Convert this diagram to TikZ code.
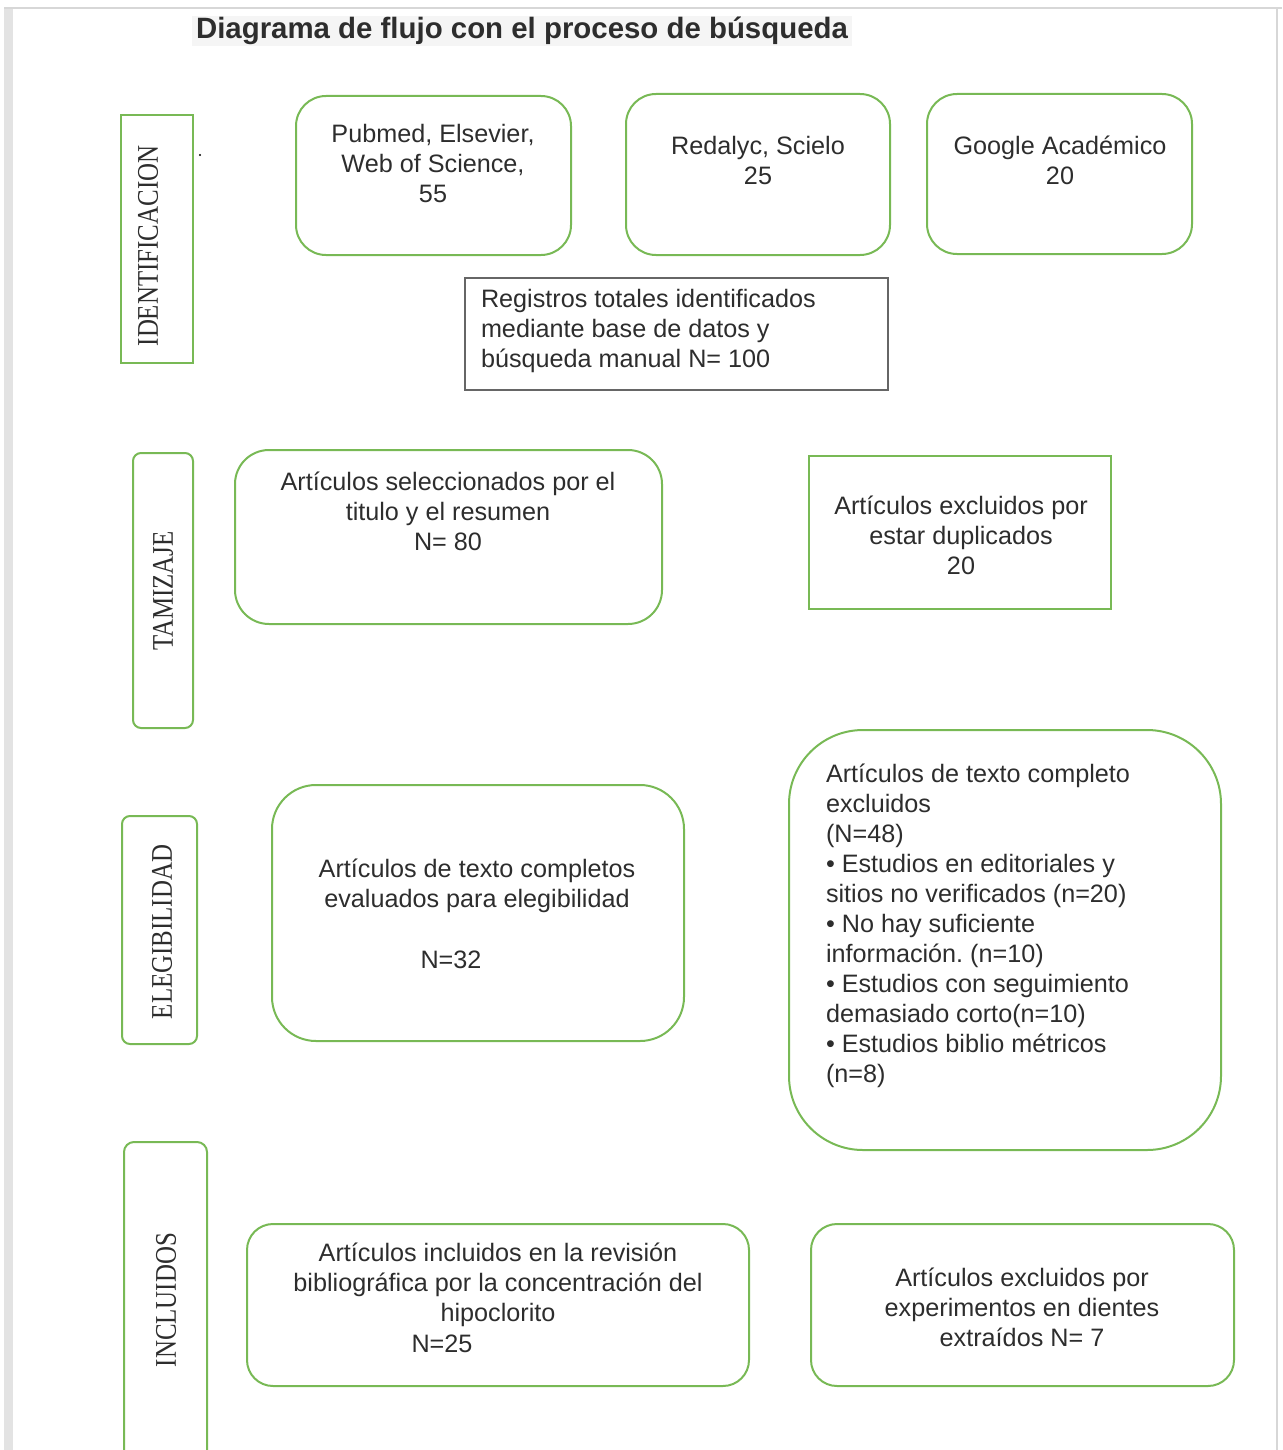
\documentclass[tikz,border=0pt]{standalone}
\usepackage{fontspec}
\setmainfont{Liberation Sans}
\newfontfamily\sidefont{Liberation Serif}
\definecolor{grn}{RGB}{120,185,85}
\definecolor{txt}{RGB}{45,45,45}
\definecolor{frame}{RGB}{215,215,215}
\begin{document}
\begin{tikzpicture}[x=0.5pt,y=-0.5pt,
  every node/.style={inner sep=0pt, outer sep=0pt, text=txt},
  gbox/.style={draw=grn, line width=1pt},
  rbox/.style={gbox, rounded corners=15pt},
  sidebox/.style={gbox, rounded corners=4pt},
  body/.style={font=\fontsize{12.6}{15}\selectfont, align=center},
  bodyl/.style={font=\fontsize{12.6}{15}\selectfont, align=left, anchor=west},
  side/.style={rotate=90, font=\sidefont\fontsize{15}{15}\selectfont}
]
\useasboundingbox (0,0) rectangle (1282,1450);
% page frame
\fill[frame!70] (4,8) rectangle (13,1450);
\draw[frame, line width=1pt] (4,8) -- (1282,8);
\draw[frame, line width=1pt] (1277,8) -- (1277,1450);

% title
\node[fill=black!4, inner xsep=2pt, minimum height=15pt, font=\bfseries\fontsize{14.7}{15}\selectfont] (title) at (522,31) {Diagrama de flujo con el proceso de búsqueda};

% IDENTIFICACION row
\node[gbox, minimum width=36pt, minimum height=124pt] (idb) at (157,239) {};
\node[side] (idt) at (148,246) {\scalebox{0.83}[1]{IDENTIFICACION}};
\fill (200,155) circle (0.6pt);
\node[rbox, minimum width=137.5pt, minimum height=79.5pt] (pub) at (433.5,175.5) {};
\node[body] (pubt) at (433,163) {Pubmed, Elsevier,\\Web of Science,\\55};
\node[rbox, minimum width=132pt, minimum height=80.5pt] (red) at (758,174.5) {};
\node[body] (redt) at (758,160) {Redalyc, Scielo\\25};
\node[rbox, minimum width=132.5pt, minimum height=80pt] (goo) at (1059.5,174) {};
\node[body] (goot) at (1060,160) {Google Académico\\20};
\node[draw=black!60, line width=0.8pt, minimum width=211.5pt, minimum height=56pt] (reg) at (676.5,334) {};
\node[bodyl] (regt) at (481,331) {Registros totales identificados\\mediante base de datos y\\búsqueda manual N= 100};

% TAMIZAJE row
\node[sidebox, minimum width=30pt, minimum height=137.5pt] (tam) at (163,590.5) {};
\node[side] (tamt) at (163,591) {\scalebox{0.83}[1]{TAMIZAJE}};
\node[rbox, rounded corners=17pt, minimum width=213.5pt, minimum height=87pt] (sel) at (448.5,537) {};
\node[body] (selt) at (448,511) {Artículos seleccionados por el\\titulo y el resumen\\N= 80};
\node[gbox, minimum width=151pt, minimum height=76.5pt] (dup) at (960,532.5) {};
\node[body] (dupt) at (961,535) {Artículos excluidos por\\estar duplicados\\20};

% ELEGIBILIDAD row
\node[sidebox, minimum width=37.5pt, minimum height=114pt] (eleg) at (159.5,930) {};
\node[side] (elegt) at (162,932) {\scalebox{0.83}[1]{ELEGIBILIDAD}};
\node[rbox, rounded corners=22pt, minimum width=206pt, minimum height=128pt] (eval) at (478,913) {};
\node[body] (evalt) at (477,885.5) {Artículos de texto completos\\evaluados para elegibilidad};
\node[body] (evaln) at (451,960) {N=32};
\node[rbox, rounded corners=37pt, minimum width=216pt, minimum height=210pt] (exc) at (1005,940) {};
\node[bodyl] (exct) at (826,926) {Artículos de texto completo\\excluidos\\(N=48)\\• Estudios en editoriales y\\sitios no verificados (n=20)\\• No hay suficiente\\información.\ (n=10)\\• Estudios con seguimiento\\demasiado corto(n=10)\\• Estudios biblio métricos\\(n=8)};

% INCLUIDOS row
\node[sidebox, rounded corners=5pt, minimum width=41.5pt, minimum height=170pt] (inc) at (165.5,1312) {};
\node[side] (inct) at (166,1300) {\scalebox{0.83}[1]{INCLUIDOS}};
\node[rbox, rounded corners=13pt, minimum width=251pt, minimum height=81pt] (incl) at (498,1305) {};
\node[body] (inclt) at (498,1285) {Artículos incluidos en la revisión\\bibliográfica por la concentración del\\hipoclorito};
\node[body] (incln) at (442,1344) {N=25};
\node[rbox, rounded corners=13pt, minimum width=211.5pt, minimum height=81pt] (dien) at (1022.5,1305) {};
\node[body] (dient) at (1022,1307) {Artículos excluidos por\\experimentos en dientes\\extraídos N= 7};
\end{tikzpicture}
\end{document}
